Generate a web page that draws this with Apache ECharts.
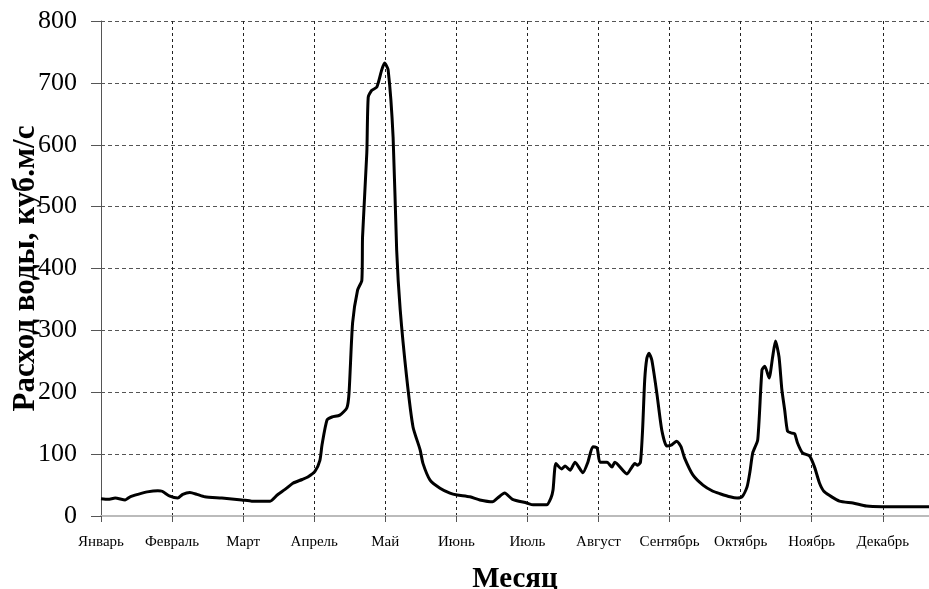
<!DOCTYPE html>
<html>
<head>
<meta charset="utf-8">
<script src="https://cdn.jsdelivr.net/npm/echarts@6/dist/echarts.min.js"></script>
<style>html,body{margin:0;padding:0;background:#fff}#c{width:929px;height:589px}</style>
</head>
<body>
<div id="c"></div>
<script>
var months = ['Январь','Февраль','Март','Апрель','Май','Июнь','Июль','Август','Сентябрь','Октябрь','Ноябрь','Декабрь'];
var yTicks = [0,100,200,300,400,500,600,700,800];
// position in months from 1 January
var flowX = [0,0.10,0.20,0.34,0.41,0.52,0.65,0.80,0.86,0.97,1.08,1.15,1.25,1.35,1.46,1.70,1.98,2.12,2.38,2.48,2.59,2.70,2.83,2.91,3.01,3.08,3.11,3.18,3.25,3.36,3.46,3.49,3.54,3.61,3.67,3.68,3.74,3.76,3.81,3.88,3.95,3.99,4.04,4.11,4.16,4.21,4.30,4.39,4.49,4.53,4.63,4.77,4.91,5.01,5.19,5.33,5.51,5.58,5.68,5.79,5.99,6.08,6.27,6.33,6.36,6.40,6.48,6.53,6.60,6.67,6.78,6.85,6.92,6.98,7.02,7.12,7.19,7.23,7.40,7.47,7.51,7.55,7.59,7.62,7.65,7.68,7.71,7.75,7.82,7.89,7.96,8.03,8.10,8.16,8.21,8.33,8.47,8.61,8.71,8.85,8.95,9.02,9.09,9.13,9.17,9.24,9.30,9.34,9.40,9.45,9.49,9.54,9.58,9.62,9.66,9.72,9.76,9.80,9.87,9.97,10.04,10.11,10.18,10.39,10.58,10.77,10.99,11.65];
var flowY = [28,27,29,26,31,35,39,41,40,32,29,35,38,35,31,29,26,24,24,34,43,53,59,63,72,90,115,155,160,163,175,199,312,365,381,451,587,677,688,693,721,732,721,612,430,333,225,144,107,85,58,45,37,34,31,26,23,29,37,27,21,18,18,29,42,85,76,81,74,87,70,87,112,110,87,87,79,87,68,79,85,82,87,139,220,255,263,252,199,139,113,115,121,112,94,66,50,40,36,31,29,31,47,71,102,123,236,242,223,257,283,257,204,171,137,134,133,118,102,97,79,53,39,24,21,16,15,15];

var pts = flowX.map(function(x,i){return [x, flowY[i]];});
var serif = 'Liberation Serif, Times New Roman, serif';
var chart = echarts.init(document.getElementById('c'), null, {renderer:'canvas'});
chart.setOption({
  animation:false,
  backgroundColor:'#fff',
  grid:{left:101, right:0, top:21, bottom:73, containLabel:false, outerBoundsMode:'none'},
  xAxis:[{
    type:'value', min:0, max:11.65, interval:1,
    name:'Месяц', nameLocation:'middle', nameGap:49, nameMoveOverlap:false,
    nameTextStyle:{fontFamily:serif, fontSize:29, fontWeight:'bold', color:'#000'},
    axisLine:{show:true, onZero:false, lineStyle:{color:'#888', width:1}},
    axisTick:{show:true, length:6, lineStyle:{color:'#555'}},
    axisLabel:{margin:19, fontFamily:serif, fontSize:15, color:'#000',
      formatter:function(v){var i=Math.round(v); return (Math.abs(v-i)<1e-6 && months[i])?months[i]:'';}},
    splitLine:{show:true, lineStyle:{color:'#222', type:[3,3], width:1}}
  },{
    type:'value', position:'top', min:0, max:11.65, interval:1,
    axisLine:{show:true, lineStyle:{color:'#bbb', width:2}},
    axisTick:{show:false}, axisLabel:{show:false}, splitLine:{show:false}
  }],
  yAxis:{
    type:'value', min:0, max:800, interval:100,
    name:'Расход воды, куб.м/с', nameLocation:'middle', nameGap:60, nameMoveOverlap:false,
    nameTextStyle:{fontFamily:serif, fontSize:31, fontWeight:'bold', color:'#000'},
    axisLine:{show:true, lineStyle:{color:'#555', width:1}},
    axisTick:{show:true, length:10, lineStyle:{color:'#555'}},
    axisLabel:{margin:24, fontFamily:serif, fontSize:26, color:'#000',
      formatter:function(v){return yTicks.indexOf(v)>=0?String(v):'';}},
    splitLine:{show:true, lineStyle:{color:'#555', type:[4,3], width:1}}
  },
  series:[{
    type:'line', data:pts, showSymbol:false, smooth:0.2,
    lineStyle:{color:'#000', width:3}, z:5
  }]
});
</script>
</body>
</html>
